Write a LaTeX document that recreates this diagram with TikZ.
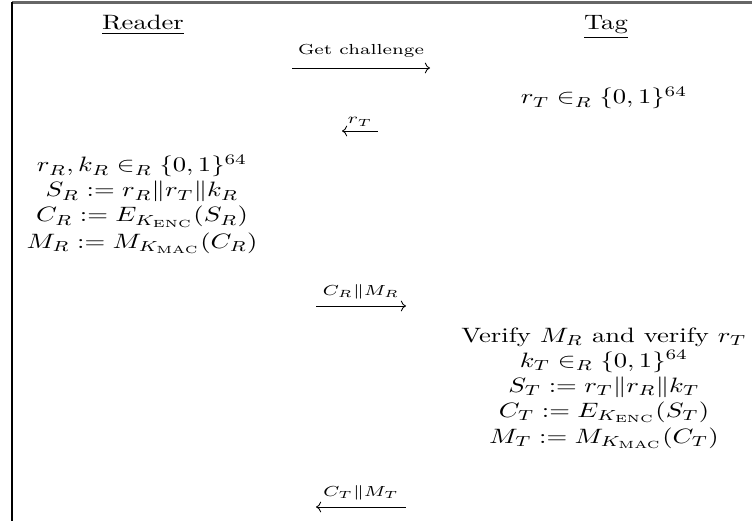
\documentclass[tikz,border=0pt]{standalone}
\usepackage{amsmath}
\usetikzlibrary{arrows.meta}
\begin{document}
\begin{tikzpicture}[x=0.4808pt,y=-0.4808pt,
  txt/.style={anchor=base,inner sep=0pt,xscale=1.28},
  lbl/.style={txt,font=\scriptsize},
  msg/.style={line width=0.4pt,-{Computer Modern Rightarrow}},
  back/.style={line width=0.4pt,{Computer Modern Rightarrow}-}]
\useasboundingbox (0,0) rectangle (752,521);
\draw[gray!80!black, line width=1pt] (12,2.5) -- (752,2.5);
\draw[line width=0.6pt] (12,2) -- (12,521);
% headers
\node[txt] (reader) at (143,30) {\underline{Reader}};
\node[txt] (tag) at (606,30) {\underline{Tag}};
% message 1
\node[lbl] (m1) at (361,55) {Get challenge};
\coordinate (m1a) at (292,68);
\coordinate (m1b) at (430,68);
\draw[msg] (m1a) -- (m1b);
% tag step 1
\node[txt] (t1) at (604,104) {$r_T \in_R \{0,1\}^{64}$};
% message 2
\node[lbl] (m2) at (360,124) {$r_T$};
\coordinate (m2a) at (342,131);
\coordinate (m2b) at (378,131);
\draw[back] (m2a) -- (m2b);
% reader block
\node[txt] (r1) at (142,172) {$r_R, k_R \in_R \{0,1\}^{64}$};
\node[txt] (r2) at (142,197) {$S_R := r_R \| r_T \| k_R$};
\node[txt] (r3) at (142,222) {$C_R := E_{K_{\mathrm{ENC}}}(S_R)$};
\node[txt] (r4) at (142,248) {$M_R := M_{K_{\mathrm{MAC}}}(C_R)$};
% message 3
\node[lbl] (m3) at (361,295) {$C_R \| M_R$};
\coordinate (m3a) at (316,306);
\coordinate (m3b) at (406,306);
\draw[msg] (m3a) -- (m3b);
% tag block
\node[txt] (t2) at (604,342) {Verify $M_R$ and verify $r_T$};
\node[txt] (t3) at (604,367) {$k_T \in_R \{0,1\}^{64}$};
\node[txt] (t4) at (604,392) {$S_T := r_T \| r_R \| k_T$};
\node[txt] (t5) at (604,417) {$C_T := E_{K_{\mathrm{ENC}}}(S_T)$};
\node[txt] (t6) at (604,443) {$M_T := M_{K_{\mathrm{MAC}}}(C_T)$};
% message 4
\node[lbl] (m4) at (361,496) {$C_T \| M_T$};
\coordinate (m4a) at (316,507);
\coordinate (m4b) at (406,507);
\draw[back] (m4a) -- (m4b);
\end{tikzpicture}
\end{document}
